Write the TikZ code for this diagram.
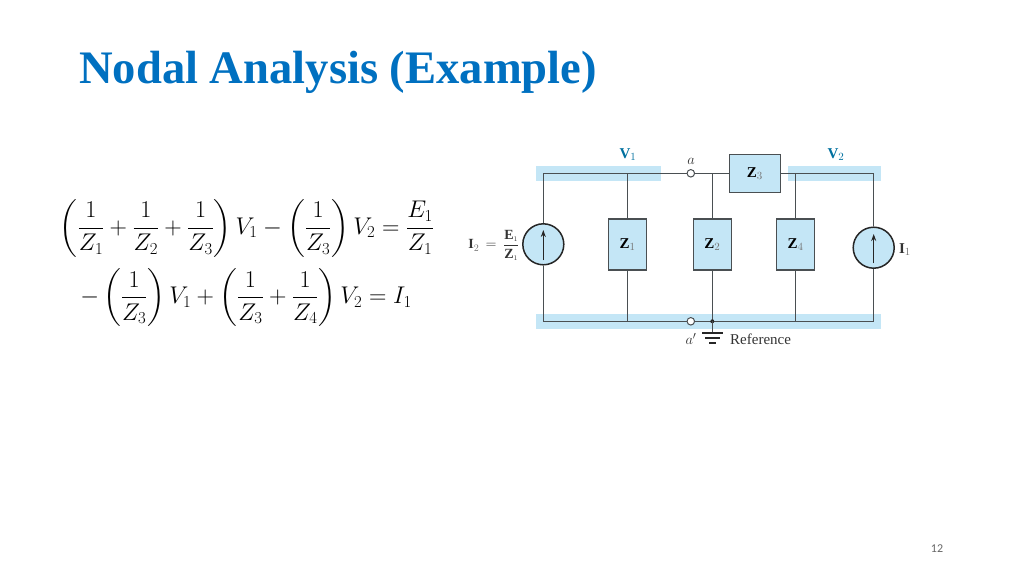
\documentclass[tikz,border=0pt]{standalone}
\usepackage{amsmath}
\usepackage{xcolor}
\usepackage{fontspec}
\setmainfont{Liberation Serif}
\newfontfamily\pagefont{Carlito}
\usetikzlibrary{arrows.meta}
\definecolor{titleblue}{HTML}{0070C0}
\definecolor{bandblue}{HTML}{C4E6F6}
\definecolor{wiregray}{HTML}{4A4F52}
\definecolor{voltblue}{HTML}{00709F}
\tikzset{
	band/.style={fill=bandblue, draw=none},
	wire/.style={draw=wiregray, line width=1pt},
	zbox/.style={draw=wiregray, fill=bandblue, line width=1.1pt, minimum width=38pt, minimum height=51pt, inner sep=0pt, font=\fontsize{15}{17}\selectfont},
	source/.style={circle, draw=black!85, fill=bandblue, line width=1.5pt, minimum size=41pt, inner sep=0pt},
	terminal/.style={circle, draw=wiregray, fill=white, line width=1pt, minimum size=7.5pt, inner sep=0pt},
	lab/.style={inner sep=0pt, text=black!80, font=\fontsize{15}{17}\selectfont},
	eqn/.style={inner sep=0pt, scale=0.97, font=\fontsize{24}{28}\selectfont},
}
\newcommand{\zsub}[1]{\textcolor{black!55}{\scriptstyle #1}}
\begin{document}
\begin{tikzpicture}[x=1pt,y=-1pt]
	\useasboundingbox (0,0) rectangle (1024,576);
	\node[anchor=west, inner sep=0pt, text=titleblue, font=\fontsize{46.6}{50}\selectfont\bfseries] (title) at (79,72) {Nodal Analysis (Example)};
	\node[inner sep=0pt, font=\fontsize{12}{14}\pagefont, text=black!60] (page) at (937,549) {12};
	% equations
	\node[eqn] (eqone) at (247,228) {$\displaystyle \left(\frac{1}{Z_1}+\frac{1}{Z_2}+\frac{1}{Z_3}\right)V_1-\left(\frac{1}{Z_3}\right)V_2=\frac{E_1}{Z_1}$};
	\node[eqn] (eqtwo) at (246,297.5) {$\displaystyle -\left(\frac{1}{Z_3}\right)V_1+\left(\frac{1}{Z_3}+\frac{1}{Z_4}\right)V_2=I_1$};
	% highlighted bands
	\fill[band] (536,166) rectangle (660.7,181);
	\fill[band] (788,166) rectangle (881,181);
	\fill[band] (536,314) rectangle (881,329);
	% elements
	\node[source] (srcleft) at (543.3,244.3) {};
	\node[source] (srcright) at (873.7,247.7) {};
	\foreach \name/\xpos/\zlabel in {zone/627.7/1,ztwo/712.3/2,zfour/795.7/4}
		\node[zbox] (\name) at (\xpos,244.5) {$\mathbf{Z}_{\zsub{\zlabel}}$};
	\node[zbox, minimum width=51.5pt, minimum height=38pt] (zthree) at (754.8,173.3) {$\mathbf{Z}_{\zsub{3}}$};
	\node[terminal] (a) at (690.8,173.3) {};
	\node[terminal] (aprime) at (690.8,321.3) {};
	% wires
	\coordinate (topone) at (627.7,173.3);
	\coordinate (toptwo) at (712.3,173.3);
	\coordinate (topfour) at (795.7,173.3);
	\coordinate (botone) at (627.7,321.3);
	\coordinate (bottwo) at (712.3,321.3);
	\coordinate (botfour) at (795.7,321.3);
	\draw[wire] (srcleft.north) |- (a);
	\draw[wire] (srcleft.south) |- (aprime);
	\draw[wire] (a) -- (zthree.west);
	\draw[wire] (zthree.east) -| (srcright.north);
	\draw[wire] (aprime) -- (bottwo) -| (srcright.south);
	\draw[wire] (zone.north) -- (topone);
	\draw[wire] (zone.south) -- (botone);
	\draw[wire] (ztwo.north) -- (toptwo);
	\draw[wire] (ztwo.south) -- (bottwo);
	\draw[wire] (zfour.north) -- (topfour);
	\draw[wire] (zfour.south) -- (botfour);
	% source arrows
	\coordinate (lefttail) at (543.3,260);
	\coordinate (lefthead) at (543.3,230);
	\coordinate (righttail) at (873.7,263);
	\coordinate (righthead) at (873.7,234);
	\draw[wire, -{Stealth[length=7pt,width=5pt]}, draw=black!85, fill=black!85] (lefttail) -- (lefthead);
	\draw[wire, -{Stealth[length=7pt,width=5pt]}, draw=black!85, fill=black!85] (righttail) -- (righthead);
	% ground
	\fill[black!85] (bottwo) circle (2pt);
	\coordinate (gndone) at (712.3,332.7);
	\draw[wire] (bottwo) -- (gndone);
	\draw[black!85, line width=2pt] (702,332.7) -- (722.7,332.7);
	\draw[black!85, line width=2pt] (705,337.8) -- (719.5,337.8);
	\draw[black!85, line width=2pt] (709,343) -- (715.7,343);
	% labels
	\node[lab, text=voltblue] (vone) at (628,155) {$\mathbf{V}_{\scriptstyle 1}$};
	\node[lab, text=voltblue] (vtwo) at (836,155) {$\mathbf{V}_{\scriptstyle 2}$};
	\node[lab] (alab) at (691,161) {$a$};
	\node[lab] (aplab) at (691,339) {$a'$};
	\node[lab, anchor=west] (ref) at (730,339.5) {Reference};
	\node[lab] (ione) at (905,250) {$\mathbf{I}_{\zsub{1}}$};
	\node[lab, anchor=east, font=\fontsize{14}{16}\selectfont] (itwo) at (519.5,245.5) {$\mathbf{I}_{\zsub{2}}\;\,\mathbf{=}\;\,\dfrac{\mathbf{E}_{\scriptscriptstyle 1}}{\mathbf{Z}_{\scriptscriptstyle 1}}$};
\end{tikzpicture}
\end{document}
